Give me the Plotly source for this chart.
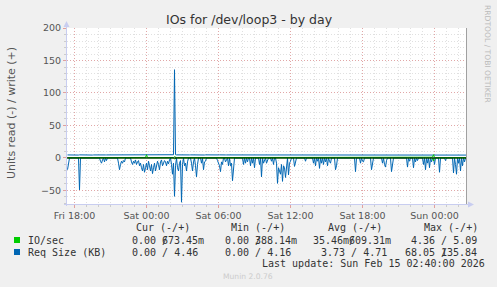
import plotly.graph_objects as go
import pandas as pd

# ---------------- data (5-minute samples, Fri 17:25 -> Sun 02:40) ----------------
start_time = "2026-02-13 17:25"
n_samples = 400

# Req Size (KB), read (shown below zero)
read_kb = [
    18, 4, 0, 0, 0, 0, 0, 0, 0, 0, 0, 0, 49, 0, 0, 0, 0, 0, 0, 0,
    0, 0, 0, 0, 0, 0, 0, 0, 0, 0, 0, 0, 0, 5, 8, 3, 0, 6, 0, 4,
    0, 0, 0, 0, 0, 0, 0, 0, 0, 0, 0, 8, 18, 10, 5, 8, 4, 6, 0, 0,
    0, 0, 0, 0, 6, 10, 5, 8, 3, 10, 6, 4, 12, 8, 15, 20, 10, 22, 15, 8,
    18, 5, 12, 20, 10, 24, 15, 8, 20, 12, 5, 10, 18, 6, 3, 12, 8, 4, 6, 12,
    5, 9, 3, 0, 10, 25, 8, 59, 12, 0, 15, 20, 8, 4, 68.05, 10, 0, 12, 8, 20,
    6, 0, 0, 0, 8, 20, 6, 0, 12, 29, 10, 0, 0, 0, 8, 0, 18, 6, 5, 0,
    0, 0, 0, 0, 0, 0, 0, 0, 0, 0, 4, 8, 12, 21, 6, 10, 0, 0, 6, 3,
    0, 12, 0, 12, 8, 35, 10, 0, 0, 0, 0, 0, 0, 0, 0, 0, 10, 0, 8, 0,
    6, 0, 0, 12, 0, 8, 0, 15, 0, 0, 0, 0, 10, 0, 29, 0, 8, 5, 0, 8,
    4, 0, 0, 0, 5, 0, 10, 0, 0, 8, 39, 15, 20, 25, 10, 36, 12, 15, 30, 10,
    0, 26, 8, 5, 0, 0, 0, 13, 5, 0, 0, 0, 0, 0, 0, 0, 0, 0, 5, 0,
    0, 0, 0, 0, 0, 0, 8, 0, 12, 0, 5, 0, 16, 0, 8, 0, 10, 0, 6, 0,
    12, 0, 5, 8, 0, 0, 0, 0, 18, 12, 0, 0, 0, 0, 0, 0, 0, 0, 0, 0,
    0, 0, 0, 0, 0, 0, 0, 0, 21, 0, 0, 0, 0, 8, 0, 5, 6, 0, 0, 0,
    0, 0, 0, 0, 18, 4, 0, 0, 0, 0, 0, 0, 0, 0, 0, 8, 0, 10, 14, 4,
    0, 0, 0, 0, 21, 5, 0, 0, 0, 0, 0, 0, 0, 0, 0, 0, 0, 0, 0, 0,
    14, 0, 5, 0, 0, 0, 15, 0, 6, 0, 4, 0, 0, 0, 0, 0, 10, 0, 18, 0,
    8, 0, 15, 0, 6, 0, 0, 10, 0, 0, 0, 0, 22, 0, 0, 0, 0, 0, 4, 0,
    0, 0, 0, 0, 0, 0, 23, 0, 10, 25, 0, 8, 0, 20, 0, 12, 0, 6, 0, 0,
]

# Req Size (KB), write (shown above zero)
write_kb = [
    4.7, 4.6, 4.8, 4.7, 4.5, 4.7, 4.6, 4.8, 4.7, 4.7, 4.6, 4.5, 4.8, 4.7, 4.6, 4.7, 4.8, 4.6, 4.7, 4.7,
    4.6, 4.7, 4.8, 4.7, 4.6, 4.5, 4.7, 4.8, 4.7, 4.6, 4.7, 4.7, 4.8, 4.6, 4.5, 4.7, 4.6, 4.8, 4.7, 4.7,
    4.7, 4.8, 4.6, 4.7, 4.7, 4.5, 4.6, 4.8, 4.7, 4.6, 4.7, 4.8, 4.7, 4.6, 4.7, 4.5, 4.7, 4.8, 4.6, 4.7,
    4.8, 4.7, 4.6, 4.7, 4.5, 4.6, 4.7, 4.8, 4.7, 4.6, 4.7, 4.8, 4.6, 4.7, 4.7, 4.5, 4.6, 4.8, 4.7, 4.9,
    4.7, 4.6, 4.7, 4.8, 4.6, 4.7, 4.5, 4.7, 4.8, 4.7, 4.6, 4.7, 4.8, 4.7, 4.6, 4.7, 4.5, 4.7, 4.8, 4.6,
    4.7, 4.6, 4.8, 4.7, 4.6, 4.8, 5.0, 135.84, 5.2, 4.8, 4.7, 4.6, 4.7, 4.8, 4.6, 4.7, 4.7, 4.5, 4.6, 4.8,
    4.7, 4.6, 4.7, 4.8, 4.7, 4.6, 4.5, 4.7, 4.8, 4.7, 4.6, 4.7, 4.8, 4.6, 4.7, 4.7, 4.5, 4.6, 4.8, 4.7,
    4.6, 4.7, 4.8, 4.7, 4.6, 4.5, 4.7, 4.8, 4.7, 4.6, 4.7, 4.7, 4.8, 4.6, 4.5, 4.7, 4.6, 4.8, 4.7, 4.7,
    4.7, 4.8, 4.6, 4.7, 4.7, 4.5, 4.6, 4.8, 4.7, 4.6, 4.7, 4.8, 4.7, 4.6, 4.7, 4.5, 4.7, 4.8, 4.6, 4.7,
    4.8, 4.7, 4.6, 4.7, 4.5, 4.6, 4.7, 4.8, 4.7, 4.6, 4.7, 4.8, 4.6, 4.7, 4.7, 4.5, 4.6, 4.8, 4.7, 4.6,
    4.7, 4.6, 4.7, 4.8, 4.6, 4.7, 4.5, 4.7, 4.8, 4.7, 4.6, 4.7, 4.8, 4.7, 4.6, 4.7, 4.5, 4.7, 4.8, 4.6,
    4.7, 4.6, 4.8, 4.7, 4.6, 4.8, 4.7, 4.6, 4.7, 4.8, 4.7, 4.6, 4.7, 4.8, 4.6, 4.7, 4.7, 4.5, 4.6, 4.8,
    4.7, 4.6, 4.7, 4.8, 4.7, 4.6, 4.5, 4.7, 4.8, 4.7, 4.6, 4.7, 4.8, 4.6, 4.7, 4.7, 4.5, 4.6, 4.8, 4.7,
    4.6, 4.7, 4.8, 4.7, 4.6, 4.5, 4.7, 4.8, 4.7, 4.6, 4.7, 4.7, 4.8, 4.6, 4.5, 4.7, 4.6, 4.8, 4.7, 4.7,
    4.7, 4.8, 4.6, 4.7, 4.7, 4.5, 4.6, 4.8, 4.7, 4.6, 4.7, 4.8, 4.7, 4.6, 4.7, 4.5, 4.7, 4.8, 4.6, 4.7,
    4.8, 4.7, 4.6, 4.7, 4.5, 4.6, 4.7, 4.8, 4.7, 4.6, 4.7, 4.8, 4.6, 4.7, 4.7, 4.5, 4.6, 4.8, 4.7, 4.6,
    4.7, 4.6, 4.7, 4.8, 4.6, 4.7, 4.5, 4.7, 4.8, 4.7, 4.6, 4.7, 4.8, 4.7, 4.6, 4.7, 4.5, 4.7, 4.8, 4.6,
    4.7, 4.6, 4.8, 4.7, 4.6, 4.8, 4.7, 4.6, 4.7, 4.8, 4.7, 4.6, 4.7, 4.8, 4.6, 4.7, 4.7, 4.5, 4.6, 4.8,
    4.7, 4.6, 4.7, 4.8, 4.7, 4.6, 4.9, 4.7, 4.8, 4.7, 4.6, 4.7, 4.8, 4.6, 4.7, 4.7, 4.5, 4.6, 4.8, 4.7,
    4.6, 4.7, 4.8, 4.7, 4.6, 4.5, 4.7, 4.8, 4.7, 4.6, 4.7, 4.7, 4.8, 4.6, 4.5, 4.7, 4.6, 4.8, 4.7, 4.46,
]

# IO/sec, write (shown above zero)
write_io = [
    0.6, 0.6, 0.5, 0.6, 0.7, 0.6, 0.6, 0.5, 0.6, 0.6, 0.7, 0.6, 0.6, 0.5, 0.6, 0.6, 0.7, 0.6, 0.6, 0.6,
    0.5, 0.6, 0.6, 0.7, 0.6, 0.6, 0.5, 0.6, 0.6, 0.7, 0.6, 0.6, 0.6, 0.5, 0.6, 0.6, 0.7, 0.6, 0.6, 0.5,
    0.6, 0.6, 0.7, 0.6, 0.6, 0.5, 0.6, 0.6, 0.6, 0.7, 0.6, 0.6, 0.5, 0.6, 0.6, 0.7, 0.6, 0.6, 0.6, 0.5,
    0.6, 0.7, 0.6, 0.6, 0.5, 0.6, 0.6, 0.7, 0.6, 0.6, 0.6, 0.5, 0.6, 0.6, 0.7, 0.6, 0.6, 0.5, 0.8, 4.9,
    0.7, 0.6, 0.6, 0.5, 0.6, 0.6, 0.7, 0.6, 0.6, 0.6, 0.5, 0.6, 0.6, 0.7, 0.6, 0.6, 0.5, 0.6, 0.6, 0.7,
    0.6, 0.6, 0.6, 0.5, 0.6, 0.6, 0.7, 2.0, 0.6, 0.5, 0.6, 0.6, 0.7, 0.6, 0.6, 0.6, 0.5, 0.6, 0.6, 0.7,
    0.6, 0.6, 0.5, 0.6, 0.6, 0.7, 0.6, 0.6, 0.6, 0.5, 0.6, 0.6, 0.7, 0.6, 0.6, 0.5, 0.6, 0.6, 0.7, 0.6,
    0.6, 0.6, 0.5, 0.6, 0.6, 0.7, 0.6, 0.6, 0.5, 0.6, 0.6, 0.7, 0.6, 0.6, 0.6, 0.5, 0.6, 0.6, 0.7, 0.6,
    0.6, 0.5, 0.6, 0.6, 0.7, 0.6, 0.6, 0.6, 0.5, 0.6, 0.6, 0.7, 0.6, 0.6, 0.5, 0.6, 0.6, 0.7, 0.6, 0.6,
    0.6, 0.5, 0.6, 0.6, 0.7, 0.6, 0.6, 0.5, 0.6, 0.6, 0.7, 0.6, 0.6, 0.6, 0.5, 0.6, 0.6, 0.7, 0.6, 0.6,
    0.5, 0.6, 0.6, 0.7, 0.6, 0.6, 0.6, 0.5, 0.6, 0.6, 0.7, 0.6, 0.6, 0.5, 0.6, 0.6, 0.7, 0.6, 0.6, 0.6,
    0.5, 0.6, 0.6, 0.7, 0.6, 0.6, 0.5, 0.6, 0.6, 0.7, 0.6, 0.6, 0.6, 0.5, 0.6, 0.6, 0.7, 0.6, 0.6, 0.5,
    0.6, 0.6, 0.7, 0.6, 0.6, 0.6, 0.5, 0.6, 0.6, 0.7, 0.6, 0.6, 0.5, 0.6, 0.6, 0.7, 0.6, 0.6, 0.6, 0.5,
    0.6, 0.6, 0.7, 0.6, 0.6, 0.5, 0.6, 0.6, 0.7, 0.6, 0.6, 0.6, 0.5, 0.6, 0.6, 0.7, 0.6, 0.6, 0.5, 0.6,
    0.6, 0.7, 0.6, 0.6, 0.6, 0.5, 0.6, 0.6, 0.7, 0.6, 0.6, 0.5, 0.6, 0.6, 0.7, 0.6, 0.6, 0.6, 0.5, 0.6,
    0.6, 0.7, 0.6, 0.6, 0.5, 0.6, 0.6, 0.7, 0.6, 0.6, 0.6, 0.5, 0.6, 0.6, 0.7, 0.6, 0.6, 0.5, 0.6, 0.6,
    0.7, 0.6, 0.6, 0.6, 0.5, 0.6, 0.6, 0.7, 0.6, 0.6, 0.5, 0.6, 0.6, 0.7, 0.6, 0.6, 0.6, 0.5, 0.6, 0.6,
    0.7, 0.6, 0.6, 0.5, 0.6, 0.6, 0.7, 0.6, 0.6, 0.6, 0.5, 0.6, 0.6, 0.7, 0.6, 0.6, 0.5, 0.6, 0.6, 0.7,
    0.6, 0.6, 0.6, 0.5, 0.6, 1.2, 5.09, 0.8, 0.6, 0.6, 0.7, 0.6, 0.6, 0.5, 0.6, 0.6, 0.7, 0.6, 0.6, 0.6,
    0.5, 0.6, 0.6, 0.7, 0.6, 0.6, 0.5, 0.6, 0.6, 0.7, 0.6, 0.6, 0.6, 0.5, 0.6, 0.6, 0.7, 0.6, 0.6, 0.673,
]

# IO/sec, read (shown below zero)
read_io = [
    0.3, 0, 0, 0, 0, 0, 0, 0, 0, 0, 0, 0, 0.4, 0, 0, 0, 0, 0, 0, 0,
    0, 0, 0, 0, 0, 0, 0, 0, 0, 0, 0, 0, 0, 0, 0, 0, 0, 0, 0, 0,
    0, 0, 0, 0, 0, 0, 0, 0, 0, 0, 0, 0, 0, 0, 0, 0, 0, 0, 0, 0,
    0, 0, 0, 0, 0, 0, 0, 0, 0, 0, 0, 0, 0, 0, 0, 0, 0, 0, 0, 0.9,
    0, 0, 0, 0, 0, 0, 0, 0, 0, 0, 0, 0, 0, 0, 0, 0, 0, 0, 0, 0,
    0, 0, 0, 0, 0, 0, 0, 1.6, 0, 0, 0, 0, 0, 0, 0.5, 0, 0, 0, 0, 0,
    0, 0, 0, 0, 0, 0, 0, 0, 0, 0, 0, 0, 0, 0, 0, 0, 0, 0, 0, 0,
    0, 0, 0, 0, 0, 0, 0, 0, 0, 0, 0, 0, 0, 0, 0, 0, 0, 0, 0, 0,
    0, 0, 0, 0, 0, 0, 0, 0, 0, 0, 0, 0, 0, 0, 0, 0, 0, 0, 0, 0,
    0, 0, 0, 0, 0, 0, 0, 0, 0, 0, 0, 0, 0, 0, 0, 0, 0, 0, 0, 0,
    0, 0, 0, 0, 0, 0, 0, 0, 0, 0, 0, 0, 0, 0, 0, 0, 0, 0, 0, 0,
    0, 0, 0, 0, 0, 0, 0, 0, 0, 0, 0, 0, 0, 0, 0, 0, 0, 0, 0, 0,
    0, 0, 0, 0, 0, 0, 0, 0, 0, 0, 0, 0, 0, 0, 0, 0, 0, 0, 0, 0,
    0, 0, 0, 0, 0, 0, 0, 0, 0, 0, 0, 0, 0, 0, 0, 0, 0, 0, 0, 0,
    0, 0, 0, 0, 0, 0, 0, 0, 0, 0, 0, 0, 0, 0, 0, 0, 0, 0, 0, 0,
    0, 0, 0, 0, 0, 0, 0, 0, 0, 0, 0, 0, 0, 0, 0, 0, 0, 0, 0, 0,
    0, 0, 0, 0, 0, 0, 0, 0, 0, 0, 0, 0, 0, 0, 0, 0, 0, 0, 0, 0,
    0, 0, 0, 0, 0, 0, 0, 0, 0, 0, 0, 0, 0, 0, 0, 0, 0, 0, 0, 0,
    0, 0, 0, 0, 0, 0, 4.36, 0, 0, 0, 0, 0, 0, 0, 0, 0, 0, 0, 0, 0,
    0, 0, 0, 0, 0, 0, 0, 0, 0, 0, 0, 0, 0, 0, 0, 0, 0, 0, 0, 0,
]

tick_times = ["2026-02-13 18:00", "2026-02-14 00:00", "2026-02-14 06:00",
              "2026-02-14 12:00", "2026-02-14 18:00", "2026-02-15 00:00"]
tick_labels = ["Fri 18:00", "Sat 00:00", "Sat 06:00", "Sat 12:00", "Sat 18:00", "Sun 00:00"]
y_ticks = [-50, 0, 50, 100, 150, 200]

legend_names = ["IO/sec", "Req Size (KB)"]
legend_colors = ["#00CC00", "#0066B3"]
legend_headers = ["Cur (-/+)", "Min (-/+)", "Avg (-/+)", "Max (-/+)"]

title_text = "IOs for /dev/loop3 - by day"
y_title = "Units read (-) / write (+)"
last_update = "Last update: Sun Feb 15 02:40:00 2026"
munin_version = "Munin 2.0.76"
rrd_credit = "RRDTOOL / TOBI OETIKER"

# ---------------- figure ----------------
times = pd.date_range(start_time, periods=n_samples, freq="5min")
half_step = pd.Timedelta(minutes=2.5)
x_range = [times[0] - half_step, times[-1] + half_step]

W, H = 497, 287
PL, PR, PT, PB = 67, 467, 28, 204  # plot box in pixels


def px(xp):
    return (xp - PL) / (PR - PL)


def py(yp):
    return (PB - yp) / (PB - PT)


fig = go.Figure()
fig.add_trace(go.Scatter(x=times, y=[-v for v in read_kb], mode="lines",
                         line=dict(color=legend_colors[1], width=1), hoverinfo="skip"))
fig.add_trace(go.Scatter(x=times, y=write_kb, mode="lines",
                         line=dict(color=legend_colors[1], width=1), hoverinfo="skip"))
fig.add_trace(go.Scatter(x=times, y=[-v for v in read_io], mode="lines",
                         line=dict(color=legend_colors[0], width=1), hoverinfo="skip"))
fig.add_trace(go.Scatter(x=times, y=write_io, mode="lines",
                         line=dict(color=legend_colors[0], width=1), hoverinfo="skip"))

major_grid = "rgba(225,110,110,0.5)"
minor_grid = "#e0e0e0"
tick_font = dict(family="DejaVu Sans", size=9.5, color="#555555")

fig.update_layout(
    width=W, height=H,
    margin=dict(l=PL, r=W - PR, t=PT, b=H - PB, pad=0),
    paper_bgcolor="#F0F0F0", plot_bgcolor="#FFFFFF",
    showlegend=False,
    xaxis=dict(
        type="date", range=x_range,
        tickvals=tick_times, ticktext=tick_labels,
        tickfont=tick_font,
        showgrid=True, gridcolor=major_grid, griddash="1px,2px", gridwidth=1,
        ticks="outside", ticklen=3, tickcolor="#e0a0a0",
        minor=dict(dtick=3600000, showgrid=True, gridcolor=minor_grid,
                   griddash="1px,2px", ticks="outside", ticklen=2, tickcolor="#cccccc"),
        showline=False, zeroline=False, fixedrange=True,
    ),
    yaxis=dict(
        range=[-70.8, 200], tickvals=y_ticks,
        tickfont=tick_font,
        showgrid=True, gridcolor=major_grid, griddash="1px,2px", gridwidth=1,
        ticks="outside", ticklen=3, tickcolor="#e0a0a0",
        minor=dict(dtick=10, showgrid=True, gridcolor=minor_grid,
                   griddash="1px,2px", ticks="outside", ticklen=2, tickcolor="#cccccc"),
        showline=False, zeroline=False, fixedrange=True,
    ),
)

# zero rule, frame and axis arrows
axis_col = "#c8cdf0"
shapes = [
    dict(type="line", xref="paper", yref="y", x0=0, x1=1, y0=0, y1=0,
         line=dict(color="#000000", width=1), layer="above"),
    dict(type="line", xref="paper", yref="paper", x0=px(466.5), x1=px(466.5), y0=0, y1=1,
         line=dict(color="#a0a0a0", width=1), layer="above"),
    dict(type="line", xref="paper", yref="paper", x0=px(66.5), x1=px(66.5), y0=py(206), y1=py(23),
         line=dict(color=axis_col, width=1), layer="above"),
    dict(type="line", xref="paper", yref="paper", x0=px(64), x1=px(470), y0=py(204.5), y1=py(204.5),
         line=dict(color=axis_col, width=1), layer="above"),
    dict(type="path", xref="paper", yref="paper",
         path=f"M {px(63.5)} {py(27)} L {px(69.5)} {py(27)} L {px(66.5)} {py(21)} Z",
         fillcolor=axis_col, line=dict(width=0), layer="above"),
    dict(type="path", xref="paper", yref="paper",
         path=f"M {px(468)} {py(201.5)} L {px(468)} {py(207.5)} L {px(474)} {py(204.5)} Z",
         fillcolor=axis_col, line=dict(width=0), layer="above"),
]
# legend colour boxes
for i, c in enumerate(legend_colors):
    y0 = 237 + 12 * i
    shapes.append(dict(type="rect", xref="paper", yref="paper",
                       x0=px(14), x1=px(20), y0=py(y0 + 6), y1=py(y0),
                       fillcolor=c, line=dict(width=0)))
fig.update_layout(shapes=shapes)

mono = dict(family="DejaVu Sans Mono", size=10, color="#333333")
ann = []


def text(s, xp, yp, font, anchor="left", angle=0):
    ann.append(dict(text=s, xref="paper", yref="paper", x=px(xp), y=py(yp),
                    xanchor=anchor, yanchor="middle", showarrow=False,
                    font=font, textangle=angle, borderpad=0))


text(title_text, 249, 19, dict(family="DejaVu Sans", size=12.5, color="#333333"), "center")
text(y_title, 11, 113, dict(family="DejaVu Sans", size=11, color="#555555"), "center", -90)
text(rrd_credit, 488, 54, dict(family="DejaVu Sans", size=7.6, color="#bbbbbb"), "center", 90)

header_x = [135, 230, 327, 423]
for hx, h in zip(header_x, legend_headers):
    text(h, hx, 227, mono)

text(legend_names[0], 27, 240, mono)
text(legend_names[1], 27, 252, mono)

# IO/sec row (rrdtool overprints the "/" with the positive value)
text("0.00 /", 131, 240, mono); text("673.45m", 161, 240, mono)
text("0.00 /", 224, 240, mono); text("388.14m", 254, 240, mono)
text("35.46m/", 312, 240, mono); text("609.31m", 348, 240, mono)
text("4.36 / 5.09", 410, 240, mono)
# Req Size row
text("0.00 / 4.46", 131, 252, mono)
text("0.00 / 4.16", 224, 252, mono)
text("3.73 / 4.71", 320, 252, mono)
text("68.05 /", 404, 252, mono); text("135.84", 440, 252, mono)

text(last_update, 261, 263.5, mono)
text(munin_version, 248, 276, dict(family="DejaVu Sans", size=7.6, color="#cccccc"), "center")

fig.update_layout(annotations=ann)

fig.write_html("out.html", config={"displayModeBar": False, "staticPlot": True})
